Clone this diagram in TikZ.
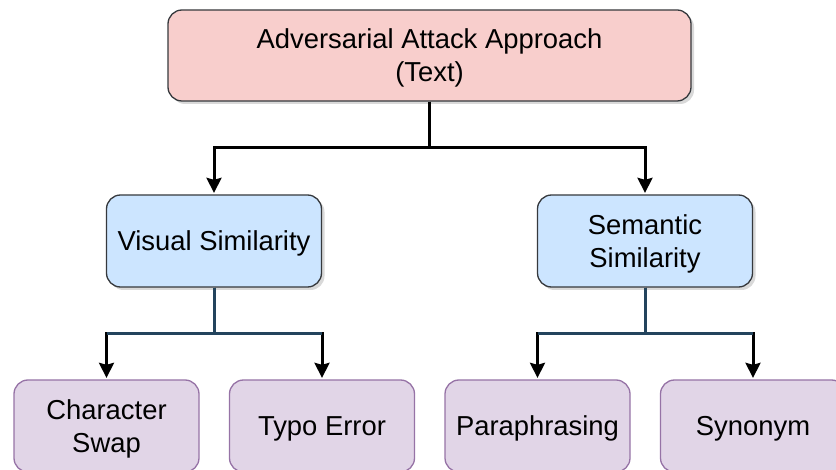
\documentclass[tikz,border=0pt]{standalone}
\usepackage{fontspec}
\setmainfont{Liberation Sans}
\usepackage{tikz}
\definecolor{rootfill}{HTML}{F8CECC}
\definecolor{midfill}{HTML}{CCE5FF}
\definecolor{leaffill}{HTML}{E1D5E7}
\definecolor{leafdraw}{HTML}{9673A6}
\definecolor{boxdraw}{HTML}{36393D}
\definecolor{stemcolor}{HTML}{23445D}
\usetikzlibrary{arrows.meta,shapes,shadows,positioning}
\tikzset{
	rootbox/.style={
		rectangle,
		rounded corners=14pt,
		line width=1.3pt,
		draw=boxdraw,
		fill=rootfill,
		minimum width=523pt,
		minimum height=91pt,
		align=center,
		text depth=0pt,
		drop shadow={shadow xshift=3pt,shadow yshift=-3pt,opacity=0.3}
	},
	midbox/.style={
		rectangle,
		rounded corners=14pt,
		line width=1.3pt,
		draw=boxdraw,
		fill=midfill,
		minimum width=215pt,
		minimum height=92pt,
		align=center,
		text depth=0pt,
		drop shadow={shadow xshift=3pt,shadow yshift=-3pt,opacity=0.3}
	},
	leafbox/.style={
		rectangle,
		rounded corners=14pt,
		line width=1.3pt,
		draw=leafdraw,
		fill=leaffill,
		minimum width=185pt,
		minimum height=92pt,
		align=center,
		text depth=0pt
	},
	arrow/.style={
		draw=black,
		line width=3pt,
		-{Stealth[length=15pt,width=15pt,inset=2pt]},
		shorten >=1.5pt
	},
	stem/.style={
		draw=stemcolor,
		line width=3pt
	},
}

\begin{document}
\begin{tikzpicture}[x=1pt,y=-1pt,node distance=185.5pt and 215.5pt,on grid,
	font=\fontsize{27.4}{33}\selectfont]
			\useasboundingbox (0,0) rectangle (836,470);
			\clip (0,0) rectangle (836,470);
			\node[rootbox] (root) at (429.5,55.5) {Adversarial Attack Approach\\(Text)};
			\node[midbox] (visual) [below left=of root] {Visual Similarity};
			\node[midbox] (semantic) [below right=of root] {Semantic\\Similarity};
			\node[leafbox] (swap) [below left=185pt and 107.5pt of visual] {Character\\Swap};
			\node[leafbox] (typo) [below right=185pt and 108pt of visual] {Typo Error};
			\node[leafbox] (para) [below left=185pt and 107.5pt of semantic] {Paraphrasing};
			\node[leafbox] (synonym) [below right=185pt and 108pt of semantic] {Synonym};
			% first level
			\draw[arrow] (root.south) -- ++(0,46) -| (visual.north);
			\draw[arrow] (root.south) -- ++(0,46) -| (semantic.north);
			% second level
			\draw[arrow] (visual.south) -- ++(0,46) -| (swap.north);
			\draw[arrow] (visual.south) -- ++(0,46) -| (typo.north);
			\draw[arrow] (semantic.south) -- ++(0,46) -| (para.north);
			\draw[arrow] (semantic.south) -- ++(0,46) -| (synonym.north);
			\draw[stem] (visual.south) -- ++(0,46) coordinate (vj);
			\draw[stem] (swap.north |- vj) -- (typo.north |- vj);
			\draw[stem] (semantic.south) -- ++(0,46) coordinate (sj);
			\draw[stem] (para.north |- sj) -- (synonym.north |- sj);
\end{tikzpicture}
\end{document}
